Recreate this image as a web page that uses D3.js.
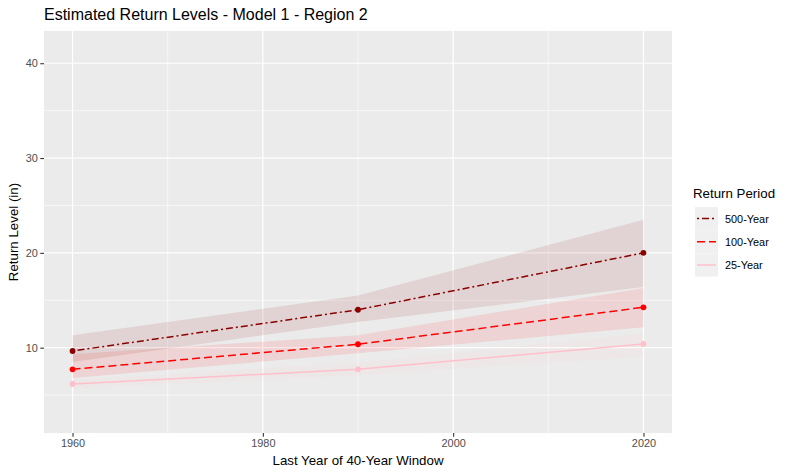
<!DOCTYPE html>
<html>
<head>
<meta charset="utf-8">
<script src="https://cdn.jsdelivr.net/npm/d3@7.9.0/dist/d3.min.js"></script>
<style>
  body { margin: 0; background: #fff; }
  text { font-family: "Liberation Sans", Arial, sans-serif; }
</style>
</head>
<body>
<div id="chart"></div>
<script>
// data
const years = [1960, 1990, 2020];
const periods = ["500-Year", "100-Year", "25-Year"];
const level500 = [9.65, 14.0, 20.0];
const lower500 = [8.5, 12.7, 16.4];
const upper500 = [11.3, 15.5, 23.5];
const level100 = [7.72, 10.36, 14.26];
const lower100 = [6.8, 9.4, 12.15];
const upper100 = [9.3, 11.3, 16.3];
const level25 = [6.17, 7.72, 10.39];
const lower25 = [5.7, 7.1, 9.05];
const upper25 = [6.6, 8.4, 11.5];
const xTicks = [1960, 1980, 2000, 2020];
const xMinor = [1970, 1990, 2010];
const yTicks = [10, 20, 30, 40];
const yMinor = [5, 15, 25, 35];

const CFG = {
  WIDTH: 800,
  HEIGHT: 475,
  PANEL: { left: 44, right: 672, top: 31, bottom: 433 }
};

const series = [
  { name: periods[0], level: level500, lower: lower500, upper: upper500, color: "#8B0000", dash: "2,3,7,3" },
  { name: periods[1], level: level100, lower: lower100, upper: upper100, color: "#FF0000", dash: "8,4" },
  { name: periods[2], level: level25, lower: lower25, upper: upper25, color: "#FFC0CB", dash: null }
];

const svg = d3.select("#chart").append("svg")
  .attr("width", CFG.WIDTH)
  .attr("height", CFG.HEIGHT);

const P = CFG.PANEL;
const xScale = d3.scaleLinear().domain([1957, 2023]).range([P.left, P.right]);
const yScale = d3.scaleLinear().domain([1.0, 43.4]).range([P.bottom, P.top]);

// panel background
svg.append("rect")
  .attr("x", P.left).attr("y", P.top)
  .attr("width", P.right - P.left).attr("height", P.bottom - P.top)
  .attr("fill", "#EBEBEB");

// grid lines
const grid = svg.append("g");
yMinor.forEach(v => grid.append("line")
  .attr("x1", P.left).attr("x2", P.right)
  .attr("y1", yScale(v)).attr("y2", yScale(v))
  .attr("stroke", "#fff").attr("stroke-width", 0.6));
xMinor.forEach(v => grid.append("line")
  .attr("y1", P.top).attr("y2", P.bottom)
  .attr("x1", xScale(v)).attr("x2", xScale(v))
  .attr("stroke", "#fff").attr("stroke-width", 0.6));
yTicks.forEach(v => grid.append("line")
  .attr("x1", P.left).attr("x2", P.right)
  .attr("y1", yScale(v)).attr("y2", yScale(v))
  .attr("stroke", "#fff").attr("stroke-width", 1.2));
xTicks.forEach(v => grid.append("line")
  .attr("y1", P.top).attr("y2", P.bottom)
  .attr("x1", xScale(v)).attr("x2", xScale(v))
  .attr("stroke", "#fff").attr("stroke-width", 1.2));

// ribbons
const area = d3.area()
  .x((d, i) => xScale(years[i]))
  .y0(d => yScale(d[0]))
  .y1(d => yScale(d[1]));

series.forEach(s => {
  svg.append("path")
    .datum(s.lower.map((v, i) => [v, s.upper[i]]))
    .attr("d", area)
    .attr("fill", s.color)
    .attr("fill-opacity", 0.1);
});

// lines + points
const line = d3.line()
  .x((d, i) => xScale(years[i]))
  .y(d => yScale(d));

series.slice().reverse().forEach(s => {
  svg.append("path")
    .datum(s.level)
    .attr("d", line)
    .attr("fill", "none")
    .attr("stroke", s.color)
    .attr("stroke-width", 1.5)
    .attr("stroke-dasharray", s.dash);

  svg.selectAll(null)
    .data(s.level)
    .enter().append("circle")
    .attr("cx", (d, i) => xScale(years[i]))
    .attr("cy", d => yScale(d))
    .attr("r", 2.9)
    .attr("fill", s.color);
});

// axes
const yAxis = svg.append("g")
  .attr("transform", `translate(${P.left},0)`)
  .call(d3.axisLeft(yScale).tickValues(yTicks).tickSize(3.7).tickPadding(2.5));
const xAxis = svg.append("g")
  .attr("transform", `translate(0,${P.bottom})`)
  .call(d3.axisBottom(xScale).tickValues(xTicks).tickFormat(d3.format("d")).tickSize(3.7).tickPadding(2.5));

[yAxis, xAxis].forEach(ax => {
  ax.select(".domain").remove();
  ax.selectAll(".tick line").attr("stroke", "#333").attr("stroke-width", 1.1);
  ax.selectAll(".tick text")
    .attr("fill", "#4D4D4D")
    .attr("font-size", 10.9)
    .attr("font-family", "Liberation Sans, Arial, sans-serif");
});

// titles
svg.append("text")
  .attr("x", P.left)
  .attr("y", 19.5)
  .attr("font-size", 16)
  .attr("fill", "#000")
  .text("Estimated Return Levels - Model 1 - Region 2");

svg.append("text")
  .attr("x", (P.left + P.right) / 2)
  .attr("y", 465)
  .attr("text-anchor", "middle")
  .attr("font-size", 13.3)
  .text("Last Year of 40-Year Window");

svg.append("text")
  .attr("transform", "rotate(-90)")
  .attr("x", -(P.top + P.bottom) / 2)
  .attr("y", 17.5)
  .attr("text-anchor", "middle")
  .attr("font-size", 13.3)
  .text("Return Level (in)");

// legend
const legend = svg.append("g").attr("transform", "translate(693,0)");
legend.append("text")
  .attr("x", 0).attr("y", 197.5)
  .attr("font-size", 13.3)
  .text("Return Period");

series.forEach((s, i) => {
  const y0 = 207 + i * 23.2;
  legend.append("rect")
    .attr("x", 2).attr("y", y0)
    .attr("width", 23).attr("height", 23.2)
    .attr("fill", "#F0F0F0");
  legend.append("line")
    .attr("x1", 4).attr("x2", 23)
    .attr("y1", y0 + 11.6).attr("y2", y0 + 11.6)
    .attr("stroke", s.color)
    .attr("stroke-width", 1.5)
    .attr("stroke-dasharray", s.dash);
  legend.append("text")
    .attr("x", 32).attr("y", y0 + 15.5)
    .attr("font-size", 10.9)
    .attr("fill", "#000")
    .text(s.name);
});
</script>
</body>
</html>
